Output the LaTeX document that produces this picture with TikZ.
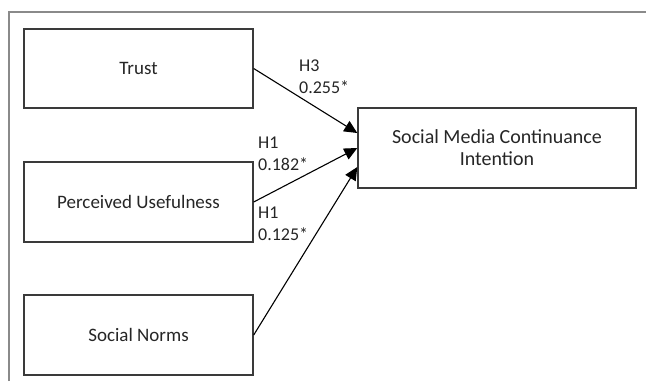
\documentclass[tikz,border=0pt]{standalone}
\usepackage{fontspec}
\setmainfont{Carlito}
\usetikzlibrary{arrows.meta}
\definecolor{txt}{HTML}{262626}
\definecolor{edge}{HTML}{3A3A3A}
\definecolor{frame}{HTML}{8A8A8A}
\begin{document}
\begin{tikzpicture}[x=1pt,y=-1pt,
  box/.style={draw=edge, line width=1.4pt, inner sep=0pt, text=txt, align=center,
    font=\fontsize{19}{22}\selectfont},
  lab/.style={inner sep=0pt, text=txt, align=left, anchor=west,
    font=\fontsize{18}{21.5}\selectfont},
  arr/.style={draw=black, line width=1.1pt, -{Triangle[length=13pt,width=12pt]}}]
\useasboundingbox (0,0) rectangle (646,381);
\draw[frame, line width=1.3pt] (9,381) -- (9,12) -- (646,12);
\node[box, minimum width=229pt, minimum height=79pt] (trust) at (138.5,68.5) {Trust};
\node[box, minimum width=229pt, minimum height=80pt] (pu) at (138.5,202) {Perceived Usefulness};
\node[box, minimum width=229pt, minimum height=80pt] (sn) at (138.5,335) {Social Norms};
\node[box, minimum width=278pt, minimum height=80pt,
  font=\fontsize{20}{22}\selectfont] (tgt) at (497,148) {Social Media Continuance\\Intention};
\coordinate (e1) at ([yshift=15pt]tgt.west);
\coordinate (e2) at (tgt.west);
\coordinate (e3) at ([yshift=-19pt]tgt.west);
\draw[arr] (trust.east) -- (e1);
\draw[arr] (pu.east) -- (e2);
\draw[arr] (sn.east) -- (e3);
\node[lab] (l3) at (299,76.5) {H3\\0.255*};
\node[lab] (l1) at (258,154) {H1\\0.182*};
\node[lab] (l2) at (258,224) {H1\\0.125*};
\end{tikzpicture}
\end{document}
